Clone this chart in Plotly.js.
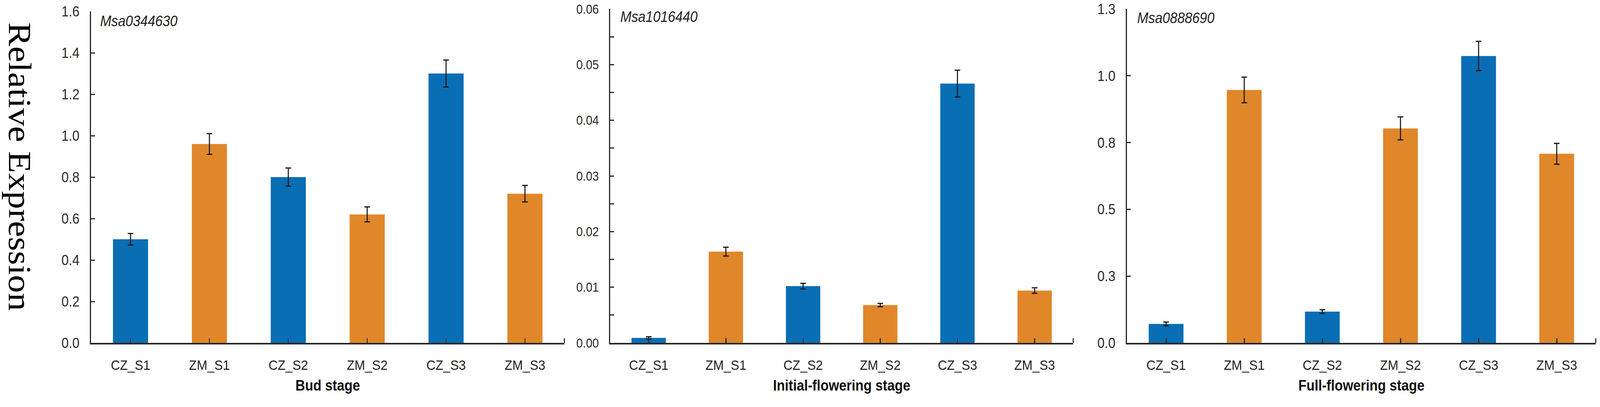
<!DOCTYPE html>
<html>
<head>
<meta charset="utf-8">
<script src="https://cdn.plot.ly/plotly-3.0.1.min.js"></script>
<style>
  html, body { margin: 0; padding: 0; background: #fff; overflow: hidden; }
  #wrap { width: 4550px; height: 1041px; transform-origin: 0 0; }
  #chart { width: 4550px; height: 1041px; }
</style>
</head>
<body>
<div id="wrap"><div id="chart"></div></div>
<script>
// Relative expression of three genes at three flowering stages (CZ vs ZM).
const categories = ["CZ_S1", "ZM_S1", "CZ_S2", "ZM_S2", "CZ_S3", "ZM_S3"];

const budMean = [0.50, 0.96, 0.80, 0.62, 1.30, 0.72];
const budErr = [0.028, 0.05, 0.044, 0.036, 0.065, 0.04];

const initMean = [0.0009, 0.0164, 0.0102, 0.0068, 0.0466, 0.0094];
const initErr = [0.0002, 0.0008, 0.0005, 0.0003, 0.0024, 0.0005];

const fullMean = [0.071, 0.947, 0.117, 0.803, 1.074, 0.708];
const fullErr = [0.007, 0.048, 0.007, 0.043, 0.055, 0.039];

const stageTitles = ["Bud stage", "Initial-flowering stage", "Full-flowering stage"];
const geneNames = ["Msa0344630", "Msa1016440", "Msa0888690"];

const BLUE = "#0a6eb4";
const ORANGE = "#e0872a";
const INK = "#262626";
const SANS = "Liberation Sans, Arial, sans-serif";

// Laid out in the 4550x1041 reference frame; the wrapper is stretched to the
// viewport we actually get (the window can come back narrower than asked).
const W = 4550, H = 1041;
const VW = window.innerWidth || W, VH = window.innerHeight || H;
document.getElementById("wrap").style.transform = `scale(${VW / W}, ${VH / H})`;

function barTrace(n, means, errs) {
  const sfx = n === 1 ? "" : String(n);
  return {
    type: "bar",
    x: categories,
    y: means,
    xaxis: "x" + sfx,
    yaxis: "y" + sfx,
    width: 0.445,
    marker: { color: categories.map((c) => (c.startsWith("CZ") ? BLUE : ORANGE)), line: { width: 0 } },
    error_y: { type: "data", array: errs, visible: true, color: "#161616", thickness: 3, width: 8 },
    hoverinfo: "x+y",
  };
}

const AXIS = {
  showline: true, linecolor: INK, linewidth: 3.5,
  ticks: "inside", tickcolor: INK, tickwidth: 3,
  showgrid: false, zeroline: false, fixedrange: true,
};

function xAxis(px0, px1, title) {
  return {
    ...AXIS,
    type: "category",
    range: [-0.5, 5.5],
    domain: [px0 / W, px1 / W],
    ticklen: 12,
    tickfont: { family: SANS, size: 36, color: "#222" },
    ticklabelstandoff: 22,
    title: { text: title, font: { family: SANS, size: 38, color: "#111", weight: "bold" }, standoff: 20 },
  };
}

function yAxis(range, dtick, fmt, topPx, fontSize, minor) {
  const ax = {
    ...AXIS,
    range,
    dtick,
    tick0: 0,
    tickformat: fmt,
    domain: [(H - 877) / H, (H - topPx) / H],
    ticklen: 11,
    tickfont: { family: SANS, size: fontSize, color: "#2a2a2a" },
    ticklabelstandoff: 22,
  };
  if (minor) ax.minor = { dtick: minor, ticks: "inside", ticklen: 11, tickwidth: 3, tickcolor: INK, showgrid: false };
  return ax;
}

function geneLabel(n, text, xshift, yshift) {
  const sfx = n === 1 ? "" : String(n);
  return {
    xref: "x" + sfx + " domain", yref: "y" + sfx + " domain",
    x: 0, y: 1, xanchor: "left", yanchor: "middle",
    xshift, yshift,
    text, showarrow: false,
    font: { family: SANS, size: 38, color: "#222", style: "italic" },
  };
}

// small upward mark where each x axis ends
function axisEndTick(n) {
  const sfx = n === 1 ? "" : String(n);
  return {
    type: "line", xref: "x" + sfx + " domain", yref: "y" + sfx,
    x0: 1, x1: 1, ysizemode: "pixel", yanchor: 0, y0: 0, y1: 12,
    line: { color: INK, width: 3 },
  };
}

const traces = [
  barTrace(1, budMean, budErr),
  barTrace(2, initMean, initErr),
  barTrace(3, fullMean, fullErr),
];

const layout = {
  width: W, height: H,
  margin: { l: 0, r: 0, t: 0, b: 0 },
  paper_bgcolor: "#fff", plot_bgcolor: "#fff",
  showlegend: false,
  xaxis: { ...xAxis(259, 1605, stageTitles[0]), anchor: "y" },
  yaxis: { ...yAxis([0, 1.6], 0.2, ".1f", 29, 37, null), anchor: "x" },
  xaxis2: { ...xAxis(1735, 3052, stageTitles[1]), anchor: "y2" },
  yaxis2: { ...yAxis([0, 0.06], 0.01, ".2f", 23, 33, 0.005), anchor: "x2" },
  xaxis3: { ...xAxis(3205, 4538, stageTitles[2]), anchor: "y3" },
  yaxis3: { ...yAxis([0, 1.25], 0.25, ".1f", 23, 37, null), anchor: "x3" },
  shapes: [axisEndTick(1), axisEndTick(2), axisEndTick(3)],
  annotations: [
    geneLabel(1, geneNames[0], 24, -25),
    geneLabel(2, geneNames[1], 27, -20),
    geneLabel(3, geneNames[2], 27, -23),
    {
      xref: "paper", yref: "paper", x: 57 / W, y: (H - 426) / H,
      xanchor: "center", yanchor: "middle", textangle: 90,
      text: "Relative Expression", showarrow: false,
      font: { family: "Liberation Serif, Times New Roman, serif", size: 92, color: "#000" },
    },
  ],
};

Plotly.newPlot("chart", traces, layout, { displayModeBar: false, responsive: false, staticPlot: true });
</script>
</body>
</html>
